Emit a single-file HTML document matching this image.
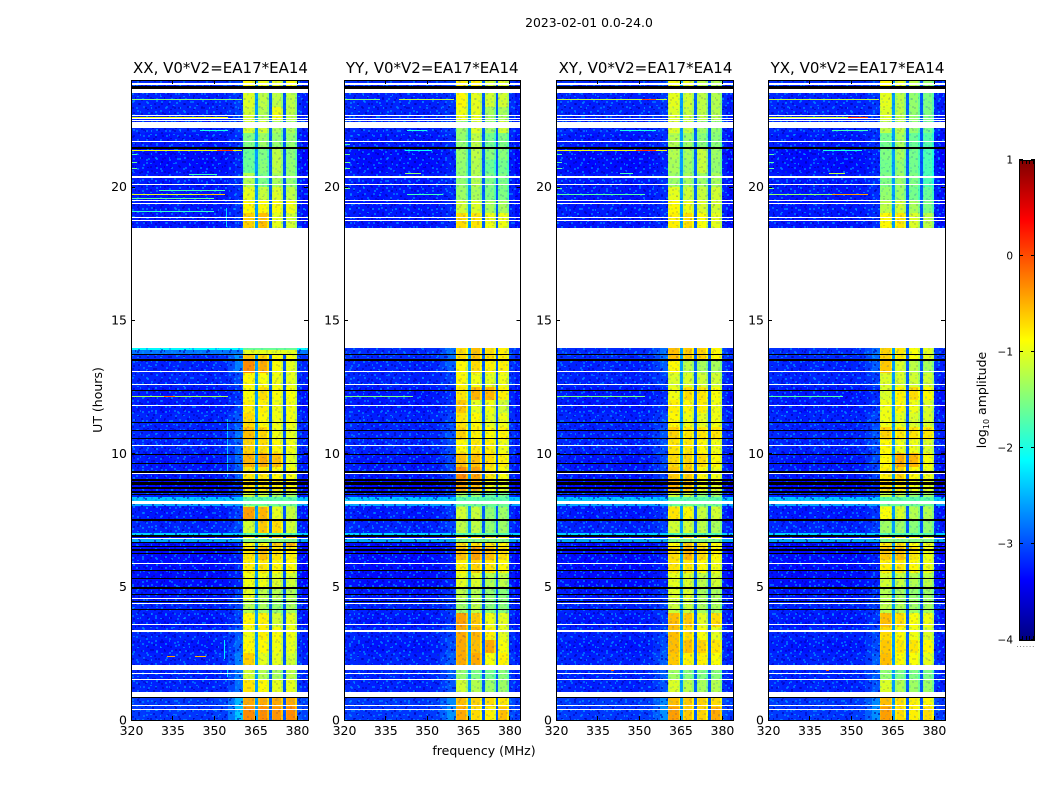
<!DOCTYPE html>
<html lang="en">
<head>
<meta charset="utf-8">
<title>2023-02-01 0.0-24.0</title>
<style>
html,body{margin:0;padding:0;background:#fff;width:1050px;height:800px;overflow:hidden}
svg{display:block}
text{font-family:"DejaVu Sans","Liberation Sans",sans-serif;fill:#000}
</style>
</head>
<body>
<svg id="chart" xmlns="http://www.w3.org/2000/svg" width="1050" height="800" viewBox="0 0 1050 800">
  <defs>
    <pattern id="speck" x="0" y="0" width="29" height="23" patternUnits="userSpaceOnUse">
      <rect x="1" y="1" width="2" height="2" fill="#0090ff" opacity=".6"/>
      <rect x="8" y="0" width="2" height="2" fill="#0000b4" opacity=".6"/>
      <rect x="15" y="2" width="1" height="2" fill="#00a8ff" opacity=".6"/>
      <rect x="22" y="1" width="2" height="2" fill="#0000c0" opacity=".55"/>
      <rect x="5" y="5" width="2" height="2" fill="#0000b0" opacity=".55"/>
      <rect x="11" y="6" width="2" height="2" fill="#0088ff" opacity=".65"/>
      <rect x="19" y="5" width="1" height="2" fill="#0000a8" opacity=".6"/>
      <rect x="26" y="6" width="2" height="2" fill="#0098ff" opacity=".6"/>
      <rect x="2" y="10" width="2" height="2" fill="#00a0ff" opacity=".6"/>
      <rect x="9" y="11" width="2" height="2" fill="#0000b8" opacity=".55"/>
      <rect x="16" y="9" width="2" height="2" fill="#0090ff" opacity=".6"/>
      <rect x="23" y="11" width="2" height="2" fill="#0000b0" opacity=".55"/>
      <rect x="0" y="15" width="2" height="2" fill="#0000b0" opacity=".55"/>
      <rect x="6" y="15" width="1" height="2" fill="#00b0ff" opacity=".6"/>
      <rect x="13" y="14" width="2" height="2" fill="#0000a8" opacity=".55"/>
      <rect x="20" y="15" width="2" height="2" fill="#0088ff" opacity=".65"/>
      <rect x="27" y="14" width="2" height="2" fill="#0000c0" opacity=".5"/>
      <rect x="3" y="20" width="2" height="2" fill="#0090ff" opacity=".6"/>
      <rect x="10" y="19" width="2" height="2" fill="#00a0ff" opacity=".6"/>
      <rect x="17" y="20" width="2" height="2" fill="#0000b4" opacity=".55"/>
      <rect x="24" y="19" width="1" height="2" fill="#0098ff" opacity=".6"/>
    </pattern>
    <pattern id="speck2" href="#speck" patternTransform="rotate(90) translate(3,7)"></pattern>
  </defs>
  <text x="589" y="27" font-size="12.4" text-anchor="middle">2023-02-01 0.0-24.0</text>
  <g id="panels"></g>
  <text x="484" y="755" font-size="12.5" text-anchor="middle">frequency (MHz)</text>
  <text x="0" y="0" font-size="12.5" text-anchor="middle" transform="translate(102,400) rotate(-90)">UT (hours)</text>
  <g id="colorbar"></g>
  <text x="0" y="0" font-size="12.5" text-anchor="middle" transform="translate(986,400) rotate(-90)">log<tspan font-size="8" dy="3">10</tspan><tspan dy="-3"> amplitude</tspan></text>
  <text x="1026" y="647" font-size="6" fill="#555" text-anchor="middle" letter-spacing="1.2">......</text>
</svg>
<script>
// ---- data (log10 amplitude, frequency in MHz, time in UT hours) ----
const titles = ['XX, V0*V2=EA17*EA14', 'YY, V0*V2=EA17*EA14', 'XY, V0*V2=EA17*EA14', 'YX, V0*V2=EA17*EA14'];
const xTickLabels = [320, 335, 350, 365, 380];
const yTickLabels = [0, 5, 10, 15, 20];
const cbarTickLabels = [1, 0, -1, -2, -3, -4];
const cbarMinorTicks = [-3.95, -3.9, -3.85, -3.8, 0.8, 0.85, 0.9, 0.95];

const utEdges = [0,.5,1,1.5,2,2.5,3,3.5,4,4.5,5,5.5,6,6.5,7,7.5,8,8.5,9,9.5,10,10.5,11,11.5,12,12.5,13,13.5,14,18.45,19,19.5,20,20.5,21,21.5,22,22.5,23,23.5,24];

const bandEdges = [[360.5,365],[366,370],[371,375],[376,380]];
const bandShape = [-0.1, 0, -0.22];
const dividerEdges = [[365,366],[370,371],[375,376]];
const dividerLevels = [-2.6,-2.9,-2.95];
const bgEdges = [320,325,330,335,340,345,350,355,357.5,360.5];
const bgSpectrum = [0.03,0,-0.02,0.02,0,-0.02,0,0.03,0.06];
const bgRiseWeight = [0,0,0,0,0,0,0.05,0.3,0.65];
const rightEdges = [380,382,384];
const rightSpectrum = [0.05,-0.05];
const panelRiseScale = [1, 0.6, 0.6, 0.6];

const bgLevels = [-3.12,-3.12,-3.22,-3.22,-3.22,-3.27,-3.22,-3.27,-3.22,-3.27,-3.32,-3.32,-3.32,-3.32,-3.22,-3.27,-3.22,-3.32,-3.27,-3.27,-3.22,-3.22,-3.22,-3.27,-3.27,-3.22,-3.22,-3.17,null,-3.27,-3.27,-3.27,-3.27,-3.32,-3.32,-3.27,-3.22,-3.22,-3.22,-3.17];
const bgRise = [1.0,.9,.5,.6,.6,.5,.3,.2,.2,.2,.1,.1,.1,.1,.2,.2,.2,.2,.4,.5,.4,.5,.3,.2,.1,.2,.6,.7,null,.1,.1,.1,.1,.1,.1,.1,.1,.1,.1,.1];

const levelsXX = [[-.3,-.3,-.35,-.3],[-.45,-.45,-.45,-.45],[-.75,-.85,-1,-1],[-1.1,-1.25,-1.3,-1.2],[-.65,-1,-1,-1.1],[-.85,-.85,-.95,-1],[-.95,-.8,-.9,-.95],[-.85,-.8,-1.1,-1],[-1.25,-1.3,-1.4,-1.3],[-1,-1.2,-1.25,-1.25],[-.95,-.95,-1.05,-1.1],[-.8,-.75,-.85,-.85],[-.75,-.55,-.75,-.8],[-.85,-.85,-.6,-.5],[-1.1,-.6,-.7,-1.1],[-.4,-.5,-1,-1.15],[-1.1,-1.1,-1.3,-1.3],[-.75,-.75,-.8,-.85],[-.75,-.75,-.85,-.9],[-.5,-.45,-.55,-1],[-.65,-.7,-.85,-.95],[-.55,-.65,-.95,-1],[-.7,-.85,-.95,-.95],[-.8,-.8,-.95,-.95],[-.9,-.7,-.9,-.9],[-.85,-.9,-.95,-1],[-.3,-.45,-.9,-1],[-.6,-.65,-.85,-.9],null,[-.65,-.55,-1,-1.1],[-.85,-.85,-.9,-.95],[-1,-1.15,-1.05,-1.2],[-1.25,-1.5,-1.3,-1.4],[-1.6,-1.45,-1.2,-1.4],[-1.6,-1.5,-1.2,-1.45],[-1.5,-1.35,-1.4,-1.4],[-1.1,-1.1,-1.3,-1.3],[-1.1,-1.25,-.95,-1.2],[-1.05,-1.2,-1.2,-1.2],[-.85,-.95,-1,-.9]];
const levelsYY = [[-.45,-.7,-.8,-.55],[-.55,-.65,-.7,-.75],[-1.1,-1.25,-1.35,-1.35],[-1.4,-1.5,-1.55,-1.45],[-.45,-.45,-.9,-.8],[-.45,-.55,-.45,-.9],[-.45,-.5,-.8,-1],[-.4,-.6,-.95,-1],[-1.35,-1.2,-1.45,-1.45],[-1.2,-1.25,-1.4,-1.45],[-1,-1.05,-1.25,-1.2],[-.8,-.65,-.75,-.85],[-.55,-.4,-.55,-.7],[-.7,-.7,-.75,-.8],[-1.2,-1.2,-1.4,-1.35],[-1.1,-1.15,-1.4,-1.35],[-1.35,-1.4,-1.6,-1.55],[-.45,-.55,-.95,-1],[-.3,-.4,-.75,-.9],[-.55,-.55,-.7,-.8],[-.85,-.75,-.8,-.95],[-.65,-.8,-.85,-.8],[-.75,-.85,-1,-.95],[-.6,-1,-.95,-1.1],[-.75,-.5,-.5,-.8],[-.85,-.95,-1,-.95],[-.85,-.7,-.8,-.8],[-.7,-.55,-.7,-.8],null,[-.7,-.75,-.95,-.95],[-1.1,-1.05,-1.3,-1.3],[-1.35,-1.3,-1.5,-1.5],[-1.4,-1.25,-1.5,-1.5],[-1.4,-1.25,-1.6,-1.55],[-1.35,-1.2,-1.45,-1.45],[-1.4,-1.2,-1.55,-1.5],[-1.35,-1.05,-1.35,-1.1],[-.95,-1,-1.3,-1.3],[-.85,-1,-1.1,-1.1],[-.8,-.8,-1.1,-1]];
const levelsXY = [[-.4,-.6,-.65,-.45],[-.55,-.6,-.65,-.7],[-1.05,-1.2,-1.3,-1.25],[-1.35,-1.45,-1.5,-1.45],[-.6,-.8,-.8,-.9],[-.55,-.55,-.65,-.75],[-.55,-.7,-.9,-1],[-.55,-.6,-1,-.7],[-1.15,-1.15,-1.3,-1.3],[-1.05,-1.05,-1.3,-1.3],[-1,-1.05,-1.2,-1.1],[-.75,-.75,-.85,-.95],[-.7,-.5,-.7,-.85],[-.85,-.6,-.75,-.85],[-1.1,-1.1,-1.2,-1.3],[-.75,-.85,-1.15,-1.1],[-1.1,-1.15,-1.4,-1.35],[-.5,-.6,-.95,-1],[-.6,-.6,-.85,-.95],[-.7,-.65,-.7,-.85],[-.75,-.75,-.85,-.95],[-.65,-.75,-.75,-.75],[-.85,-.95,-1,-.95],[-.8,-.85,-.8,-.95],[-.95,-.7,-.75,-.9],[-1.05,-1.05,-1.1,-1.1],[-.85,-1.2,-1.3,-1.3],[-.55,-.6,-.65,-.85],null,[-.8,-.7,-.9,-1],[-.85,-.95,-1.05,-1.1],[-1,-1.1,-1.15,-1.1],[-1.35,-1.3,-1.35,-1.3],[-1.3,-1.35,-1.15,-1.4],[-1.25,-1.3,-1.15,-1.35],[-1.25,-1.35,-1.45,-1.45],[-1.05,-1.15,-1.35,-1.4],[-1.05,-1.15,-1.2,-1.25],[-1,-1.1,-1.2,-1.25],[-.95,-.95,-1.2,-1.25]];
const levelsYX = [[-.4,-.7,-.8,-.7],[-.55,-.7,-.8,-.85],[-1.05,-1.25,-1.35,-1.35],[-1.4,-1.5,-1.5,-1.5],[-.55,-.85,-.9,-1],[-.6,-.75,-.75,-.85],[-.7,-.85,-.95,-1.05],[-.55,-.7,-.9,-.95],[-1.2,-1.25,-1.35,-1.3],[-1.25,-1.3,-1.4,-1.35],[-1.1,-1.15,-1.25,-1.2],[-.8,-.75,-.85,-.95],[-.6,-.55,-.75,-.95],[-.75,-.7,-.9,-.95],[-1.35,-1.35,-1.45,-1.4],[-.9,-1.05,-1.25,-1.25],[-1.15,-1.2,-1.4,-1.35],[-.7,-.75,-.95,-1],[-.8,-.65,-.85,-.95],[-.85,-.45,-.5,-.9],[-.85,-.95,-.95,-1.05],[-.65,-.75,-.75,-.75],[-.95,-1,-1.05,-1.05],[-.95,-.85,-.95,-1.05],[-1.05,-.8,-.7,-.85],[-1.05,-1.05,-1.1,-1.1],[-.6,-1.05,-1.2,-1.3],[-.65,-.75,-.9,-1],null,[-.85,-.75,-1.05,-1.2],[-1.2,-1.1,-1.3,-1.5],[-1.4,-1.35,-1.55,-1.6],[-1.5,-1.35,-1.5,-1.75],[-1.55,-1.4,-1.55,-1.75],[-1.5,-1.3,-1.55,-1.75],[-1.55,-1.3,-1.6,-1.7],[-1.2,-1.2,-1.4,-1.55],[-1.05,-1.2,-1.4,-1.5],[-1,-1.2,-1.4,-1.5],[-.85,-1,-1.2,-1.4]];

// [start UT, end UT, background level, band level]
const stripsAll = [[8.21,8.37,-2.4,-1.7],[8.02,8.1,-2.55,-1.6],[6.9,7.01,-2.35,-1.75],[6.69,6.79,-2.55,-1.5]];
const stripsXX = [[13.87,13.95,-2.15,-1.6],[13.72,13.87,-2.8,-1]];

// [UT, start MHz, end MHz, level]
const rfiXX = [[12.12,320,355,-1.3],[12.12,332,336,-.2],[23.27,320,360,-1.5],[21.37,320,360,-.95],[21.37,351,357,.05],[22.58,320,355,-.95],[19.72,320,354,-1.0],[19.72,345,354,-.6],[19.85,330,354,-1.8],[19.55,320,350,-1.7],[19.08,320,350,-1.9],[22.12,345,355,-2],[20.47,341,351,-1.8],[2.37,333,336,-.4],[2.37,343,347,-.5],[21.2,320.5,322,-1.8],[20.92,320.5,322,-1.6],[20.68,320.5,322,-1.6]];
const rfiYY = [[12.12,320,345,-1.5],[23.27,320,333,-1.5],[23.27,340,360,-1.2],[21.37,342,352,-2.1],[20.5,342,348,-1.4],[19.7,343,356,-1.8],[22.12,343,350,-2],[21.57,320.5,322,-1.8],[21.2,320.5,322,-1.6],[20.92,320.5,322,-1.6],[20.68,320.5,322,-1.6],[19.95,320.5,322,-1.6]];
const rfiXY = [[12.12,320,352,-1.5],[23.27,320,360,-1.2],[23.27,351,356,0],[21.37,320,360,-.95],[21.37,349,356,.1],[19.7,320,352,-1.7],[20.5,343,348,-1.8],[22.12,343,356,-2],[21.2,320.5,322,-1.7],[20.92,320.5,322,-1.7],[20.68,320.5,322,-1.7],[19.95,320.5,322,-1.6],[1.85,340,341,0]];
const rfiYX = [[12.12,320,347,-1.7],[23.27,320,360,-1.2],[22.6,320,356,-1.1],[22.6,349,356,.05],[21.37,340,354,-2],[19.7,320,343,-1.4],[19.7,343,356,-.4],[20.5,342,348,-1.2],[22.12,343,356,-1.8],[21.2,320.5,322,-1.7],[20.92,320.5,322,-1.7],[20.68,320.5,322,-1.7],[19.95,320.5,322,-1.6],[1.85,341,342,-.1]];

const vertRfi = [[18.5,19.2,354.4,-2.3],[9.1,11.3,354.6,-2.4],[2.3,3,353.6,-2.2],[1.6,2,354.6,-2.2]];

const blackFlags = [[23.66,23.78],[21.42,21.5],[13.7,13.72],[13.48,13.52],[12.35,12.39],[11.15,11.19],[10.82,10.86],[10.52,10.56],[9.95,9.99],[9.6,9.64],[9.28,9.32],[8.98,9.02],[8.9,8.94],[8.83,8.87],[8.68,8.72],[8.53,8.57],[8.42,8.46],[7.48,7.52],[6.88,6.92],[6.63,6.67],[6.47,6.51],[6.39,6.43],[6.32,6.36],[6.24,6.28],[5.57,5.61],[5.3,5.34],[4.9,5],[4.7,4.74],[4.42,4.46],[4.14,4.18],[.82,.86]];
const whiteFlags = [[23.81,23.88],[23.51,23.66],[22.67,22.7],[22.53,22.57],[22.46,22.5],[22.2,22.42],[21.66,21.71],[20.34,20.4],[20.06,20.1],[19.46,19.5],[19.35,19.39],[18.82,18.86],[18.71,18.75],[13.95,18.45],[13.05,13.09],[12.56,12.6],[11.77,11.81],[10.27,10.31],[9.22,9.26],[8.1,8.21],[6.81,6.84],[5.84,5.89],[4.54,4.57],[4.35,4.39],[3.56,3.6],[3.3,3.37],[1.87,2.06],[1.72,1.76],[1.5,1.54],[.86,1.05],[.52,.56],[.37,.41]];

const panelLefts = [131, 344, 556, 768];
const panelWidths = [177, 176.4, 177, 177];
const panelLevels = [levelsXX, levelsYY, levelsXY, levelsYX];
const panelRfi = [rfiXX, rfiYY, rfiXY, rfiYX];
const panelStrips = [stripsAll.concat(stripsXX), stripsAll, stripsAll, stripsAll];
const panelKeys = ['xx', 'yy', 'xy', 'yx'];

// ---- scales ----
const NS = 'http://www.w3.org/2000/svg';
const plotTop = 80, plotBottom = 720;
const fMin = 320, fMax = 384, utMax = 24;
const cbarX = 1019, cbarW = 16, cbarTop = 160, cbarBottom = 640, vMin = -4, vMax = 1;
let panelW = 177;
function xScale(left, f) { return left + (f - fMin) / (fMax - fMin) * panelW; }
function yScale(ut) { return plotBottom - ut / utMax * (plotBottom - plotTop); }
function cbarY(v) { return cbarBottom - (v - vMin) / (vMax - vMin) * (cbarBottom - cbarTop); }
function clip(a) { return Math.max(0, Math.min(1, a)); }
function jet(v) {
  const t = clip((v - vMin) / (vMax - vMin));
  const r = clip(Math.min(4 * t - 1.5, -4 * t + 4.5));
  const g = clip(Math.min(4 * t - 0.5, -4 * t + 3.5));
  const b = clip(Math.min(4 * t + 0.5, -4 * t + 2.5));
  return 'rgb(' + Math.round(r * 255) + ',' + Math.round(g * 255) + ',' + Math.round(b * 255) + ')';
}
function box(parent, x0, x1, y0, y1, fill) {
  const el = document.createElementNS(NS, 'rect');
  const xa = Math.round(x0), xb = Math.round(x1), ya = Math.round(Math.min(y0, y1));
  let h = Math.round(Math.max(y0, y1)) - ya;
  if (h < 1) h = 1;
  el.setAttribute('x', xa);
  el.setAttribute('y', ya);
  el.setAttribute('width', Math.max(1, xb - xa));
  el.setAttribute('height', h);
  el.setAttribute('fill', fill);
  el.setAttribute('shape-rendering', 'crispEdges');
  parent.appendChild(el);
  return el;
}
function label(parent, x, y, str, size, anchor) {
  const t = document.createElementNS(NS, 'text');
  t.setAttribute('x', x);
  t.setAttribute('y', y);
  t.setAttribute('font-size', size);
  t.setAttribute('text-anchor', anchor);
  t.textContent = str;
  parent.appendChild(t);
  return t;
}
function tickLine(parent, x1, y1, x2, y2) {
  const l = document.createElementNS(NS, 'line');
  l.setAttribute('x1', x1);
  l.setAttribute('y1', y1);
  l.setAttribute('x2', x2);
  l.setAttribute('y2', y2);
  l.setAttribute('stroke', '#000');
  l.setAttribute('stroke-width', 1);
  l.setAttribute('shape-rendering', 'crispEdges');
  parent.appendChild(l);
  return l;
}

// ---- panels ----
const panelsRoot = document.getElementById('panels');
titles.forEach(function (title, p) {
  const left = panelLefts[p];
  panelW = panelWidths[p];
  const right = left + panelW;
  const levels = panelLevels[p];
  const g = document.createElementNS(NS, 'g');
  
  
  panelsRoot.appendChild(g);

  for (let r = 0; r < utEdges.length - 1; r++) {
    const lv = levels[r];
    if (!lv) continue;
    const y0 = yScale(utEdges[r]), y1 = yScale(utEdges[r + 1]);
    for (let c = 0; c < bgEdges.length - 1; c++) {
      const cell = box(g, xScale(left, bgEdges[c]), xScale(left, bgEdges[c + 1]), y0, y1, jet(bgLevels[r] + bgSpectrum[c] + panelRiseScale[p] * bgRise[r] * bgRiseWeight[c]));
      
      
    }
    bandEdges.forEach(function (edges, b) {
      const subEdges = [edges[0], edges[0] + 0.5, edges[1] - 0.7, edges[1]];
      for (let s = 0; s < 3; s++) {
        const cell = box(g, xScale(left, subEdges[s]), xScale(left, subEdges[s + 1]), y0, y1, jet(lv[b] + bandShape[s]));
        
        
      }
    });
    dividerEdges.forEach(function (edges, d) {
      const cell = box(g, xScale(left, edges[0]), xScale(left, edges[1]), y0, y1, jet(dividerLevels[d]));
      
      
    });
    for (let c = 0; c < rightEdges.length - 1; c++) {
      const cell = box(g, xScale(left, rightEdges[c]), xScale(left, rightEdges[c + 1]), y0, y1, jet(bgLevels[r] + rightSpectrum[c] + panelRiseScale[p] * bgRise[r] * 0.1));
      
      
    }
  }

  panelStrips[p].forEach(function (st) {
    const a = box(g, xScale(left, fMin), xScale(left, bandEdges[0][0]), yScale(st[1]), yScale(st[0]), jet(st[2]));
    
    
    const b = box(g, xScale(left, rightEdges[0]), xScale(left, fMax), yScale(st[1]), yScale(st[0]), jet(st[2]));
    
    
    const c = box(g, xScale(left, bandEdges[0][0]), xScale(left, rightEdges[0]), yScale(st[1]), yScale(st[0]), jet(st[3]));
    
    
  });

  ['speck', 'speck2'].forEach(function (pid) {
    const speckA = box(g, xScale(left, fMin), xScale(left, bandEdges[0][0]), plotTop, plotBottom, 'url(#' + pid + ')');
    
    
    const speckB = box(g, xScale(left, rightEdges[0]), xScale(left, fMax), plotTop, plotBottom, 'url(#' + pid + ')');
    
    
    const speckC = box(g, xScale(left, bandEdges[0][0]), xScale(left, rightEdges[0]), plotTop, plotBottom, 'url(#' + pid + ')');
    speckC.setAttribute('opacity', '0.22');
    
    
  });

  panelRfi[p].forEach(function (line) {
    const y = yScale(line[0]);
    const el = box(g, xScale(left, line[1]), xScale(left, line[2]), y - 0.5, y + 0.5, jet(line[3]));
    
    
  });
  if (p === 0) {
    vertRfi.forEach(function (line) {
      const x = xScale(left, line[2]);
      const el = box(g, x, x + 1, yScale(line[1]), yScale(line[0]), jet(line[3]));
      
      
    });
  }
  blackFlags.forEach(function (f) {
    const el = box(g, left, right, yScale(f[1]), yScale(f[0]), '#000');
    
    
  });
  whiteFlags.forEach(function (f) {
    const el = box(g, left, right, yScale(f[1]), yScale(f[0]), '#fff');
    
    
  });

  const frame = document.createElementNS(NS, 'rect');
  frame.setAttribute('x', left + 0.5);
  frame.setAttribute('y', plotTop + 0.5);
  frame.setAttribute('width', Math.round(panelW));
  frame.setAttribute('height', plotBottom - plotTop);
  frame.setAttribute('fill', 'none');
  frame.setAttribute('stroke', '#000');
  frame.setAttribute('shape-rendering', 'crispEdges');
  
  
  g.appendChild(frame);

  xTickLabels.forEach(function (f) {
    const x = Math.round(xScale(left, f)) + 0.5;
    const t1 = tickLine(g, x, plotBottom, x, plotBottom - 4);
    
    
    const t2 = tickLine(g, x, plotTop, x, plotTop + 4);
    
    
    const tx = label(g, xScale(left, f) + 0.5, 735, String(f), 12.5, 'middle');
    
    
  });
  yTickLabels.forEach(function (u) {
    const y = Math.round(yScale(u)) + 0.5;
    const t1 = tickLine(g, left, y, left + 4, y);
    
    
    const t2 = tickLine(g, right, y, right - 4, y);
    
    
    const ty = label(g, left - 4, yScale(u) + 4.5, String(u), 12.5, 'end');
    
    
  });
  const tt = label(g, left + panelW / 2 + (panelW < 177 ? 0 : 1), 73, title, 15, 'middle');
  
  
});

// ---- colorbar ----
const cb = document.getElementById('colorbar');
for (let py = cbarTop; py < cbarBottom; py++) {
  const v = vMax - (py + 0.5 - cbarTop) / (cbarBottom - cbarTop) * (vMax - vMin);
  const seg = box(cb, cbarX, cbarX + cbarW, py, py + 1, jet(v));
  
  
}
const cbFrame = document.createElementNS(NS, 'rect');
cbFrame.setAttribute('x', cbarX + 0.5);
cbFrame.setAttribute('y', cbarTop + 0.5);
cbFrame.setAttribute('width', cbarW - 1);
cbFrame.setAttribute('height', cbarBottom - cbarTop);
cbFrame.setAttribute('fill', 'none');
cbFrame.setAttribute('stroke', '#000');
cbFrame.setAttribute('shape-rendering', 'crispEdges');


cb.appendChild(cbFrame);
cbarTickLabels.forEach(function (v) {
  const y = Math.round(cbarY(v)) - 0.5;
  const t1 = tickLine(cb, cbarX, y, cbarX + 4, y);
  
  
  const t2 = tickLine(cb, cbarX + cbarW, y, cbarX + cbarW - 4, y);
  
  
  const tl = label(cb, cbarX - 6, cbarY(v) + 3.5, String(v).replace('-', '\u2212'), 10.5, 'end');
  
  
});
cbarMinorTicks.forEach(function (v, i) {
  const xo = cbarX + 3 + (i % 4) * 3.5;
  const y0 = v > 0 ? cbarTop : cbarBottom;
  const y1 = v > 0 ? cbarTop + 4 : cbarBottom - 4;
  const m = tickLine(cb, Math.round(xo) + 0.5, y0, Math.round(xo) + 0.5, y1);
  
  
});
</script>
</body>
</html>
